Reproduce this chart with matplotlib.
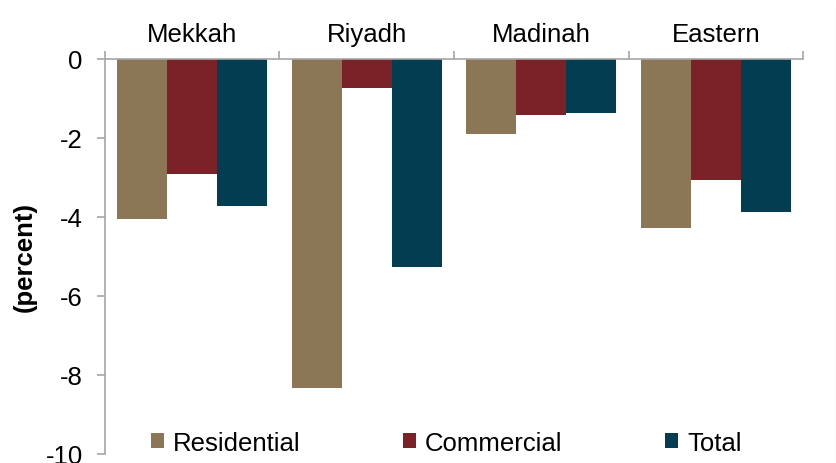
import numpy as np
import matplotlib.pyplot as plt
from matplotlib.lines import Line2D
from matplotlib.ticker import FixedLocator

plt.rcParams['font.family'] = ['Liberation Sans', 'DejaVu Sans']
plt.rcParams['axes.unicode_minus'] = False

# Regional change by segment (percent)
regions = ['Mekkah', 'Riyadh', 'Madinah', 'Eastern']
residential = [-4.05, -8.34, -1.90, -4.29]
commercial = [-2.90, -0.74, -1.43, -3.06]
total = [-3.71, -5.27, -1.37, -3.87]

series = [('Residential', residential, '#8b7755'),
          ('Commercial', commercial, '#7b2128'),
          ('Total', total, '#033d52')]

fig = plt.figure(figsize=(8.37, 4.64), dpi=100)
ax = fig.add_axes([0.1254, 0.0194, 0.8340, 0.8513])

x = np.arange(len(regions))
width = 0.287
for i, (name, vals, col) in enumerate(series):
    ax.bar(x + (i - 1) * width, vals, width, color=col, label=name,
           edgecolor='none', zorder=2)

ax.set_xlim(-0.5, len(regions) - 0.5)
ax.set_ylim(-10, 0)
ax.set_yticks(np.arange(-10, 1, 2))

# category names on top, boundary ticks along the zero line
ax.xaxis.tick_top()
ax.set_xticks(x)
ax.set_xticklabels(regions, fontsize=18.5)
ax.xaxis.set_minor_locator(FixedLocator(np.arange(-0.5, len(regions), 1.0)))
ax.tick_params(axis='x', which='major', length=0, pad=9)
ax.tick_params(axis='x', which='minor', length=6, color='#a6a6a6', width=1.2,
               direction='out')
ax.tick_params(axis='y', length=6, color='#a6a6a6', width=1.2, pad=10,
               labelsize=18.5)

for s in ['right', 'bottom']:
    ax.spines[s].set_visible(False)
for s in ['top', 'left']:
    ax.spines[s].set_color('#a6a6a6')
    ax.spines[s].set_linewidth(1.2)

ax.set_ylabel('(percent)', fontsize=18.5, fontweight='bold', labelpad=6)

ax.legend(loc='center', bbox_to_anchor=(0.489, 0.028), ncol=3, frameon=False,
          fontsize=18.5, handlelength=0.5, handleheight=0.5, handletextpad=0.35,
          columnspacing=4.0, borderpad=0)

# faint frame edge on the right
fig.add_artist(Line2D([0.9985, 0.9985], [0.0, 0.98], color='#e6e6e6', lw=1))

fig.savefig('out.png', dpi=100)
